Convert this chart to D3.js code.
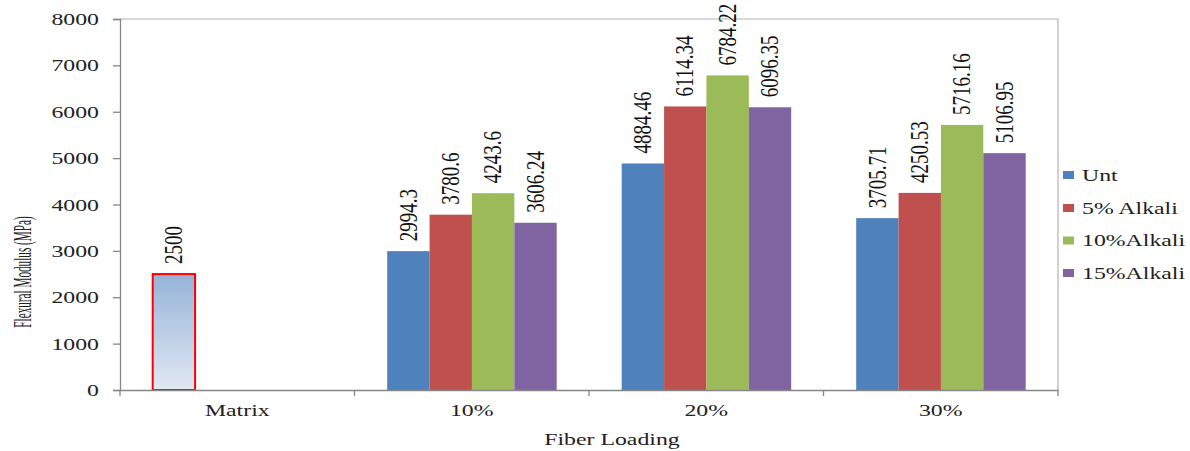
<!DOCTYPE html>
<html><head><meta charset="utf-8">
<script src="https://cdn.jsdelivr.net/npm/d3@7"></script>
<style>body{margin:0;background:#fff}svg{display:block}</style>
</head><body>
<svg id="c" width="1190" height="451"></svg>
<script>
const categories = ["Matrix", "10%", "20%", "30%"];
const seriesNames = ["Unt", "5% Alkali", "10%Alkali", "15%Alkali"];
const matrixValues = [2500, null, null, null];
const unt = [null, 2994.3, 4884.46, 3705.71];
const alk5 = [null, 3780.6, 6114.34, 4250.53];
const alk10 = [null, 4243.6, 6784.22, 5716.16];
const alk15 = [null, 3606.24, 6096.35, 5106.95];
const labelsUnt = [null, "2994.3", "4884.46", "3705.71"];
const labels5 = [null, "3780.6", "6114.34", "4250.53"];
const labels10 = [null, "4243.6", "6784.22", "5716.16"];
const labels15 = [null, "3606.24", "6096.35", "5106.95"];
const matrixLabels = ["2500", null, null, null];
const yTicks = [0, 1000, 2000, 3000, 4000, 5000, 6000, 7000, 8000];
const colors = ["#4F81BD", "#C0504D", "#9BBB59", "#8064A2"];

const svg = d3.select("#c");
const L = 120, R = 1058, T = 19, B = 390;
const SX = 1.4;
const FONT = "'Liberation Serif','Times New Roman',serif";

const defs = svg.append("defs");
const g = defs.append("linearGradient").attr("id", "mg").attr("x1", 0).attr("y1", 0).attr("x2", 0).attr("y2", 1);
g.append("stop").attr("offset", "0%").attr("stop-color", "#95B3D7");
g.append("stop").attr("offset", "100%").attr("stop-color", "#E1E8F3");

const x = d3.scaleBand().domain(categories).range([L, R]).paddingInner(0).paddingOuter(0);
const inner = d3.scaleBand().domain(seriesNames).range([32.7, x.bandwidth() - 32.3]).padding(0);
const y = d3.scaleLinear().domain([0, 8000]).range([B, T]);

// plot border (top/right)
svg.append("path").attr("d", `M${L},${T}H${R}V${B}`).attr("fill", "none").attr("stroke", "#B3B3B3").attr("stroke-width", 1.2);

const series = [unt, alk5, alk10, alk15];
const labels = [labelsUnt, labels5, labels10, labels15];

// bars
series.forEach((vals, si) => {
  categories.forEach((c, ci) => {
    const v = vals[ci];
    if (v == null) return;
    const bx = x(c) + inner(seriesNames[si]);
    svg.append("rect").attr("x", bx).attr("y", y(v)).attr("width", inner.bandwidth()).attr("height", y(0) - y(v)).attr("fill", colors[si]);
  });
});
// matrix bar
categories.forEach((c, ci) => {
  const v = matrixValues[ci];
  if (v == null) return;
  const bx = x(c) + inner(seriesNames[0]);
  svg.append("rect").attr("x", bx).attr("y", y(v)).attr("width", inner.bandwidth()).attr("height", y(0) - y(v))
    .attr("fill", "url(#mg)").attr("stroke", "#FF0000").attr("stroke-width", 2);
});

// value labels
function vlabel(cx, topY, txt) {
  svg.append("text").attr("transform", `translate(${cx},${topY - 10}) scale(1.3,1) rotate(-90)`)
    .attr("dy", "0.33em").attr("font-family", FONT).attr("font-size", 19).attr("fill", "#111")
    .attr("text-anchor", "start").text(txt);
}
series.forEach((vals, si) => {
  categories.forEach((c, ci) => {
    if (vals[ci] == null) return;
    vlabel(x(c) + inner(seriesNames[si]) + inner.bandwidth() / 2, y(vals[ci]), labels[si][ci]);
  });
});
categories.forEach((c, ci) => {
  if (matrixValues[ci] == null) return;
  vlabel(x(c) + inner(seriesNames[0]) + inner.bandwidth() / 2, y(matrixValues[ci]), matrixLabels[ci]);
});

// y axis
const ya = svg.append("g").attr("transform", `translate(${L},0)`)
  .call(d3.axisLeft(y).tickValues(yTicks).tickSize(7).tickPadding(0).tickFormat(d3.format("d")));
ya.select(".domain").attr("stroke", "#868686").attr("stroke-width", 1.3);
ya.selectAll(".tick line").attr("stroke", "#868686").attr("stroke-width", 1.3);
ya.selectAll(".tick text").each(function () {
  const t = d3.select(this);
  t.attr("x", null).attr("dy", null).attr("text-anchor", "end").attr("font-family", FONT).attr("font-size", 17).attr("fill", "#222")
    .attr("transform", `translate(-21,5.5) scale(${SX},1)`);
});

// x axis
const xa = svg.append("g").attr("transform", `translate(0,${B})`)
  .call(d3.axisBottom(x).tickSize(0).tickFormat(""));
xa.select(".domain").attr("stroke", "#868686").attr("stroke-width", 1.3);
xa.selectAll(".tick").remove();
const bounds = categories.map(c => x(c)).concat([R]);
svg.selectAll(".xt").data(bounds).enter().append("line")
  .attr("x1", d => d).attr("x2", d => d).attr("y1", B).attr("y2", B + 6).attr("stroke", "#868686").attr("stroke-width", 1.3);
categories.forEach(c => {
  svg.append("text").attr("transform", `translate(${x(c) + x.bandwidth() / 2},416) scale(${SX},1)`)
    .attr("text-anchor", "middle").attr("font-family", FONT).attr("font-size", 17).attr("fill", "#222").text(c);
});

// axis titles
svg.append("text").attr("transform", `translate(612,445) scale(${SX},1)`)
  .attr("text-anchor", "middle").attr("font-family", FONT).attr("font-size", 17).attr("fill", "#222").text("Fiber Loading");
svg.append("text").attr("transform", `translate(22,272) scale(2.3,1) rotate(-90)`)
  .attr("dy", "0.33em").attr("text-anchor", "middle").attr("font-family", FONT).attr("font-size", 11.2).attr("fill", "#222")
  .text("Flexural Modulus (MPa)");

// legend
const ly = [175, 208, 240.5, 273];
seriesNames.forEach((n, i) => {
  svg.append("rect").attr("x", 1063).attr("y", ly[i] - 4).attr("width", 11).attr("height", 8).attr("fill", colors[i]);
  svg.append("text").attr("transform", `translate(1082,${ly[i] + 5.5}) scale(${SX},1)`)
    .attr("font-family", FONT).attr("font-size", 17).attr("fill", "#222").text(n);
});
</script>
</body></html>
